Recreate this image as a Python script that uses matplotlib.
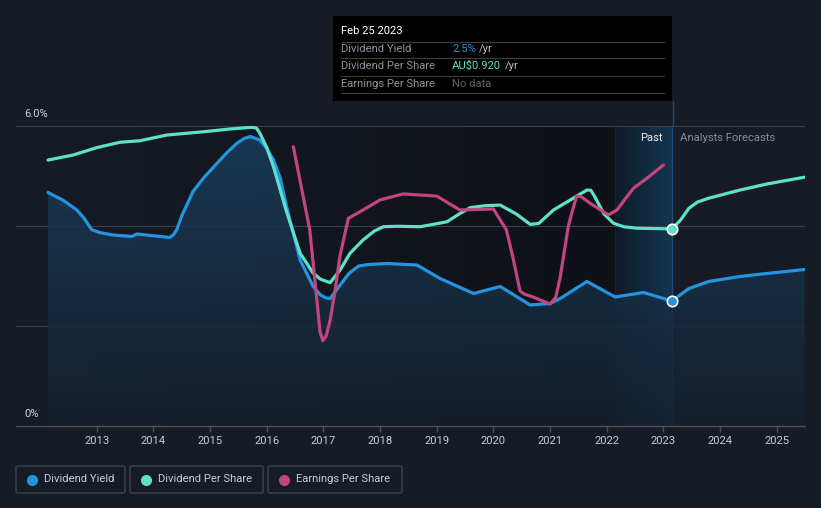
import numpy as np
import matplotlib
matplotlib.use("Agg")
import matplotlib.pyplot as plt
from matplotlib.patches import Rectangle, FancyBboxPatch
from matplotlib.lines import Line2D
from matplotlib.colors import LinearSegmentedColormap

plt.rcParams['font.family'] = ['Roboto', 'DejaVu Sans']

# ---------------- data ----------------
yield_years = [2012.14, 2012.40, 2012.65, 2012.78, 2012.91, 2013.05, 2013.29, 2013.62,
               2013.71, 2014.29, 2014.35, 2014.41, 2014.50, 2014.70, 2014.90, 2015.12,
               2015.30, 2015.47, 2015.60, 2015.71, 2015.88, 2016.00, 2016.12, 2016.24,
               2016.35, 2016.59, 2016.82, 2016.95, 2017.05, 2017.12, 2017.25, 2017.45,
               2017.62, 2017.80, 2018.12, 2018.65, 2019.06, 2019.65, 2020.12, 2020.65,
               2021.00, 2021.18, 2021.65, 2022.15, 2022.65, 2023.15, 2023.45, 2023.80,
               2024.35, 2024.82, 2025.49]
yield_pct = [4.67, 4.52, 4.32, 4.15, 3.93, 3.87, 3.82, 3.79,
             3.84, 3.77, 3.82, 3.92, 4.20, 4.69, 4.98, 5.25,
             5.47, 5.65, 5.75, 5.79, 5.72, 5.55, 5.32, 4.95,
             4.39, 3.32, 2.79, 2.62, 2.56, 2.55, 2.75, 3.05,
             3.20, 3.23, 3.25, 3.22, 2.95, 2.65, 2.79, 2.42,
             2.45, 2.55, 2.89, 2.58, 2.67, 2.50, 2.75, 2.89,
             2.99, 3.05, 3.13]

dps_years = [2012.14, 2012.59, 2013.00, 2013.41, 2013.76, 2014.24, 2014.88, 2015.35,
             2015.74, 2015.82, 2015.88, 2016.00, 2016.12, 2016.35, 2016.59, 2016.82,
             2016.95, 2017.12, 2017.30, 2017.47, 2017.70, 2017.90, 2018.06, 2018.30,
             2018.71, 2019.18, 2019.40, 2019.59, 2019.85, 2020.12, 2020.40, 2020.65,
             2020.80, 2021.06, 2021.65, 2021.72, 2021.79, 2021.95, 2022.12, 2022.30,
             2022.53, 2023.15, 2023.30, 2023.45, 2023.60, 2023.80, 2024.35, 2024.82,
             2025.49]
dps = [1.241, 1.265, 1.299, 1.324, 1.331, 1.358, 1.373, 1.386,
       1.394, 1.390, 1.366, 1.300, 1.210, 1.000, 0.806, 0.713,
       0.685, 0.669, 0.730, 0.806, 0.868, 0.910, 0.930, 0.932,
       0.930, 0.953, 0.990, 1.019, 1.028, 1.031, 0.990, 0.941,
       0.945, 1.008, 1.101, 1.100, 1.070, 0.990, 0.946, 0.930,
       0.923, 0.920, 0.960, 1.016, 1.045, 1.063, 1.101, 1.129,
       1.161]

eps_years = [2016.47, 2016.76, 2016.88, 2016.94, 2016.99, 2017.05, 2017.12, 2017.20,
             2017.29, 2017.44, 2017.70, 2018.00, 2018.41, 2019.00, 2019.41, 2020.00,
             2020.23, 2020.35, 2020.47, 2020.55, 2020.70, 2021.00, 2021.10, 2021.18,
             2021.32, 2021.40, 2021.47, 2021.55, 2021.71, 2022.03, 2022.18, 2022.30,
             2022.47, 2022.60, 2022.71, 2023.00]
eps = [1.303, 0.915, 0.603, 0.440, 0.398, 0.420, 0.495, 0.620,
       0.790, 0.969, 1.008, 1.055, 1.083, 1.073, 1.008, 1.013,
       0.915, 0.780, 0.630, 0.615, 0.602, 0.569, 0.600, 0.695,
       0.929, 1.010, 1.073, 1.070, 1.039, 0.985, 1.008, 1.050,
       1.109, 1.135, 1.156, 1.218]

year_ticks = list(range(2013, 2026))
marker_year = 2023.15
marker_yield = 2.5
marker_dps = 0.920
forecast_start = 2022.15

# ---------------- style ----------------
BG = '#161b26'
BLUE = '#2394e0'
TEAL = '#5fe0c8'
PINK = '#c2457f'
FS = 8.1

W, H = 821, 508
fig = plt.figure(figsize=(W / 100, H / 100), dpi=100, facecolor=BG)

def fx(px):
    return px / W

def fy(py):
    return 1 - py / H

ax_l, ax_r, ax_t, ax_b = 16, 804.5, 126, 426
ax = fig.add_axes([fx(ax_l), fy(ax_b), fx(ax_r - ax_l), (ax_b - ax_t) / H])
ax.set_facecolor('none')
xmin, xmax = 2011.576, 2025.49
ax.set_xlim(xmin, xmax)
ax.set_ylim(0, 6)

# background gradients
hgrad = np.linspace(0, 1, 256).reshape(1, -1)
cm_past = LinearSegmentedColormap.from_list('p', [BG, '#0e1116'])
ax.imshow(hgrad, extent=[xmin, forecast_start, 0, 6], aspect='auto', cmap=cm_past,
          zorder=0, interpolation='bicubic')
cm_fc = LinearSegmentedColormap.from_list('f', ['#0f1b29', '#143552'])
ax.imshow(hgrad, extent=[forecast_start, marker_year, 0, 6], aspect='auto', cmap=cm_fc,
          zorder=0, interpolation='bicubic')
ax.axvline(forecast_start, color='#18222e', lw=0.8, zorder=0.5)
ax.axvline(marker_year, color='#1f4c70', lw=1.0, zorder=0.5)

# grid lines
for v in [2, 4, 6]:
    ax.axhline(v, color='#3a3f48', lw=0.8, zorder=1)

# area fill with vertical gradient
poly = ax.fill_between(yield_years, 0, yield_pct, color='none', lw=0)
vgrad = np.linspace(1, 0, 256).reshape(-1, 1)
cm_area = LinearSegmentedColormap.from_list('a', ['#14202e', '#1b3f5e'])
im = ax.imshow(vgrad, extent=[xmin, xmax, 0, 6], aspect='auto', cmap=cm_area,
               zorder=1.5, alpha=0.85, interpolation='bicubic')
im.set_clip_path(poly.get_paths()[0], transform=ax.transData)

ax.plot(yield_years, yield_pct, color=BLUE, lw=2.3, zorder=3,
        solid_capstyle='round', solid_joinstyle='round')

ax2 = ax.twinx()
ax2.set_ylim(0, 1.4)
ax2.axis('off')
ax2.plot(dps_years, dps, color=TEAL, lw=2.3, zorder=3,
         solid_capstyle='round', solid_joinstyle='round')
ax2.plot(eps_years, eps, color=PINK, lw=2.3, zorder=3,
         solid_capstyle='round', solid_joinstyle='round')
ax2.plot([marker_year], [marker_dps], 'o', ms=7.5, mfc=TEAL, mec='white', mew=1.2, zorder=5)
ax.plot([marker_year], [marker_yield], 'o', ms=7.5, mfc=BLUE, mec='white', mew=1.2, zorder=5)

# axes styling
for s in ['top', 'right', 'left']:
    ax.spines[s].set_visible(False)
ax.spines['bottom'].set_color('#4a4f58')
ax.spines['bottom'].set_linewidth(1.0)
ax.set_yticks([])
ax.set_xticks(year_ticks)
ax.set_xticklabels([str(y) for y in year_ticks])
ax.tick_params(axis='x', colors='#4a4f58', length=4, width=1, labelcolor='#c8ccd2',
               labelsize=FS, pad=3)

# y labels
fig.text(fx(24), fy(114), '6.0%', color='#d0d4da', fontsize=FS, va='center', ha='left')
fig.text(fx(24), fy(414), '0%', color='#d0d4da', fontsize=FS, va='center', ha='left')

# Past / Analysts Forecasts
fig.text(fx(663), fy(138), 'Past', color='#e8eaee', fontsize=FS, va='center', ha='right')
fig.text(fx(680), fy(138), 'Analysts Forecasts', color='#8a8f98', fontsize=FS,
         va='center', ha='left')

# tooltip line
fig.add_artist(Line2D([fx(673), fx(673)], [fy(101), fy(126)], color='#1f4c70', lw=1.0))

# tooltip box
fig.add_artist(Rectangle((fx(333), fy(101)), fx(339), 85 / H, transform=fig.transFigure,
                         facecolor='black', edgecolor='none'))
fig.text(fx(341), fy(31), 'Feb 25 2023', color='white', fontsize=FS, va='center', ha='left')
for ly in [41.7, 58.3, 76.3, 93.3]:
    fig.add_artist(Line2D([fx(341), fx(664)], [fy(ly), fy(ly)], color='#3c3c3c', lw=0.8))
rows = [('Dividend Yield', 49.3), ('Dividend Per Share', 66), ('Earnings Per Share', 84)]
for lbl, yy in rows:
    fig.text(fx(341), fy(yy), lbl, color='#8f949b', fontsize=FS, va='center', ha='left')

renderer = fig.canvas.get_renderer()
for val, col, yy in [('2.5%', BLUE, 49.3), ('AU$0.920', TEAL, 66)]:
    t = fig.text(fx(452), fy(yy), val, color=col, fontsize=FS, va='center', ha='left')
    bb = t.get_window_extent(renderer=renderer)
    fig.text(bb.x1 / W + fx(3.5), fy(yy), '/yr', color='#b8bcc2', fontsize=FS,
             va='center', ha='left')
fig.text(fx(452), fy(84), 'No data', color='#5d6168', fontsize=FS, va='center', ha='left')

# legend boxes
legend_items = [('Dividend Yield', BLUE, 16, 125), ('Dividend Per Share', TEAL, 130, 263),
                ('Earnings Per Share', PINK, 268, 402)]
for lbl, col, x0, x1 in legend_items:
    fig.add_artist(FancyBboxPatch((fx(x0), fy(493)), fx(x1 - x0), 27 / H,
                                  boxstyle='round,pad=0,rounding_size=0.003',
                                  transform=fig.transFigure, facecolor='none',
                                  edgecolor='#3e434c', lw=1.0))
    fig.add_artist(Line2D([fx(x0 + 16)], [fy(479.5)], marker='o', ms=7, color=col, mec=col))
    fig.text(fx(x0 + 28), fy(479.5), lbl, color='#c8ccd2', fontsize=FS, va='center', ha='left')

fig.savefig('out.png', dpi=100, facecolor=BG)
